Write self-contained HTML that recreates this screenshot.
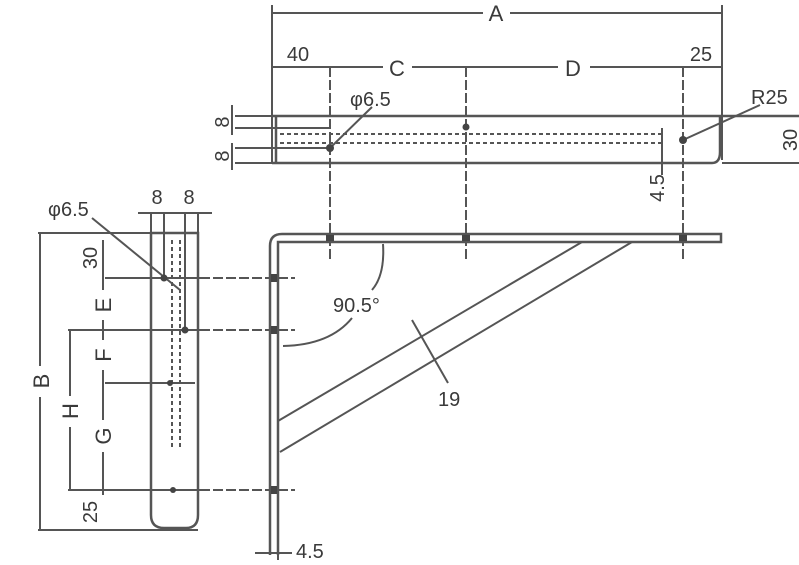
<!DOCTYPE html>
<html><head><meta charset="utf-8"><style>
html,body{margin:0;padding:0;background:#fff;}
svg{display:block;}
text{font-family:"Liberation Sans",sans-serif;fill:#3a3a3a;}
</style></head><body>
<svg width="799" height="565" viewBox="0 0 799 565" xmlns="http://www.w3.org/2000/svg">
<g stroke="#555" stroke-width="2" fill="none">
<!-- TOP VIEW -->
<line x1="272" y1="5" x2="272" y2="163"/>
<line x1="722" y1="5" x2="722" y2="160"/>
<line x1="272" y1="13" x2="483" y2="13"/><line x1="510" y1="13" x2="722" y2="13"/>
<line x1="272" y1="67" x2="383" y2="67"/><line x1="412" y1="67" x2="558" y2="67"/><line x1="590" y1="67" x2="722" y2="67"/>
<line x1="272" y1="116" x2="799" y2="116" stroke-width="2.5"/>
<path d="M272 163 H712 Q720 163 720 152 V116" stroke-width="2.5"/>
<line x1="722" y1="163" x2="799" y2="163"/>
<line x1="276" y1="116" x2="276" y2="163" stroke-width="2.5"/>
<line x1="235" y1="128" x2="330" y2="128"/>
<line x1="235" y1="148" x2="330" y2="148"/>
<line x1="235" y1="116" x2="272" y2="116"/>
<line x1="235" y1="163" x2="272" y2="163"/>
<line x1="232" y1="105" x2="232" y2="135"/><line x1="232" y1="143" x2="232" y2="170"/>
<path d="M280 134 H665 M280 143 H665" stroke-dasharray="4,3"/>
<line x1="662" y1="128" x2="662" y2="175"/>
<line x1="330" y1="67" x2="330" y2="262" stroke-dasharray="10,3"/>
<line x1="466" y1="67" x2="466" y2="262" stroke-dasharray="10,3"/>
<line x1="683" y1="67" x2="683" y2="262" stroke-dasharray="10,3"/>
<line x1="330" y1="148" x2="372" y2="107"/>
<line x1="683" y1="140" x2="760" y2="105"/>
<!-- SIDE VIEW bracket -->
<path d="M270 555 V246 Q270 234 282 234 H721 V242 H278 V555" stroke-width="2.5"/>
<line x1="278" y1="421" x2="582" y2="242"/>
<line x1="280" y1="452" x2="632" y2="242"/>
<line x1="412" y1="320" x2="448" y2="383"/>
<path d="M383 244 Q385 275 372 290"/>
<path d="M352 318 Q330 345 283 346"/>
<line x1="255" y1="553" x2="292" y2="553"/>
<line x1="278" y1="540" x2="278" y2="560"/>
<!-- FRONT VIEW strip -->
<path d="M151 233 V515 Q151 528 164 528 H186 Q198 528 198 515 V233 Z" stroke-width="2.5"/>
<line x1="164" y1="212" x2="164" y2="278"/>
<line x1="185" y1="212" x2="185" y2="330"/>
<line x1="151" y1="212" x2="151" y2="233"/>
<line x1="198" y1="212" x2="198" y2="233"/>
<line x1="138" y1="213" x2="212" y2="213"/>
<path d="M172 240 V450 M180 240 V450" stroke-dasharray="4,3"/>
<line x1="38" y1="233" x2="198" y2="233"/>
<line x1="38" y1="530" x2="198" y2="530"/>
<line x1="40" y1="233" x2="40" y2="366"/><line x1="40" y1="397" x2="40" y2="530"/>
<line x1="68" y1="330" x2="200" y2="330"/>
<line x1="68" y1="490" x2="200" y2="490"/>
<line x1="70" y1="330" x2="70" y2="396"/><line x1="70" y1="427" x2="70" y2="490"/>
<line x1="103" y1="240" x2="103" y2="290"/><line x1="103" y1="320" x2="103" y2="340"/>
<line x1="103" y1="370" x2="103" y2="420"/><line x1="103" y1="452" x2="103" y2="495"/>
<line x1="105" y1="278" x2="200" y2="278"/>
<line x1="105" y1="383" x2="195" y2="383"/>
<path d="M200 278 H295 M200 330 H295 M200 490 H295" stroke-dasharray="10,3"/>
<line x1="92" y1="218" x2="180" y2="290"/>
</g>
<g fill="#444">
<circle cx="330" cy="148" r="4"/><circle cx="466" cy="127" r="3.5"/><circle cx="683" cy="140" r="4"/>
<circle cx="164" cy="278" r="3.5"/><circle cx="185" cy="330" r="3.5"/><circle cx="170" cy="383" r="3"/><circle cx="173" cy="490" r="3"/>
<rect x="326" y="235" width="8" height="6"/><rect x="462" y="235" width="8" height="6"/><rect x="679" y="235" width="8" height="6"/>
<rect x="271" y="274" width="6" height="8"/><rect x="271" y="326" width="6" height="8"/><rect x="271" y="486" width="6" height="8"/>
</g>
<g font-size="20">
<text x="496" y="21" text-anchor="middle" font-size="22">A</text>
<text x="298" y="61" text-anchor="middle">40</text>
<text x="397" y="76" text-anchor="middle" font-size="22">C</text>
<text x="573" y="76" text-anchor="middle" font-size="22">D</text>
<text x="701" y="61" text-anchor="middle">25</text>
<text x="350" y="106">φ6.5</text>
<text x="751" y="104">R25</text>
<text transform="translate(797,140) rotate(-90)" text-anchor="middle">30</text>
<text transform="translate(229,122) rotate(-90)" text-anchor="middle">8</text>
<text transform="translate(229,156) rotate(-90)" text-anchor="middle">8</text>
<text transform="translate(664,188) rotate(-90)" text-anchor="middle">4.5</text>
<text x="157" y="204" text-anchor="middle">8</text>
<text x="189" y="204" text-anchor="middle">8</text>
<text x="48" y="216">φ6.5</text>
<text transform="translate(97,258) rotate(-90)" text-anchor="middle">30</text>
<text transform="translate(111,305) rotate(-90)" text-anchor="middle" font-size="22">E</text>
<text transform="translate(111,355) rotate(-90)" text-anchor="middle" font-size="22">F</text>
<text transform="translate(111,436) rotate(-90)" text-anchor="middle" font-size="22">G</text>
<text transform="translate(97,512) rotate(-90)" text-anchor="middle">25</text>
<text transform="translate(49,381) rotate(-90)" text-anchor="middle" font-size="22">B</text>
<text transform="translate(78,411) rotate(-90)" text-anchor="middle" font-size="22">H</text>
<text x="333" y="312">90.5°</text>
<text x="438" y="406">19</text>
<text x="296" y="558">4.5</text>
</g>
</svg>
</body></html>
